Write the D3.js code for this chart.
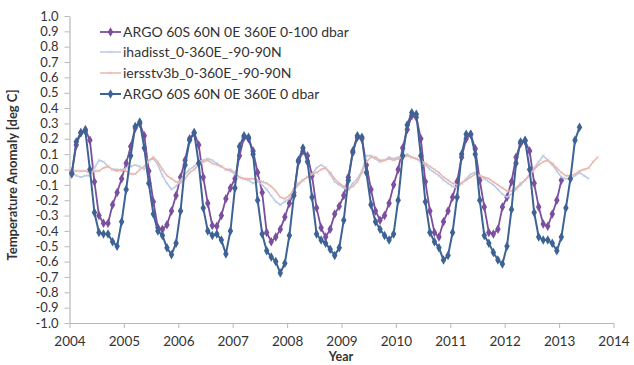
<!DOCTYPE html>
<html>
<head>
<meta charset="utf-8">
<script src="https://cdn.jsdelivr.net/npm/d3@7"></script>
<style>
  body { margin: 0; background: #fff; }
  text { font-family: Lato, "Open Sans", sans-serif; }
</style>
</head>
<body>
<div id="chart"></div>
<script>
// monthly values, first value = Jan 2004
var argo100 = [
  -0.02, 0.16, 0.24, 0.26, 0.19, -0.08, -0.30, -0.35, -0.35, -0.23, -0.15, -0.06,
  0.04, 0.15, 0.27, 0.30, 0.22, -0.01, -0.21, -0.38, -0.39, -0.36, -0.27, -0.17,
  -0.05, 0.06, 0.20, 0.24, 0.16, -0.05, -0.22, -0.365, -0.37, -0.30, -0.19, -0.12,
  -0.06, 0.09, 0.21, 0.20, 0.12, -0.02, -0.15, -0.41, -0.47, -0.44, -0.39, -0.31,
  -0.22, -0.15, 0.05, 0.12, 0.09, -0.04, -0.25, -0.38, -0.44, -0.39, -0.29, -0.24,
  -0.17, -0.05, 0.11, 0.21, 0.20, 0.03, -0.13, -0.27, -0.33, -0.30, -0.22, -0.10,
  0.00, 0.14, 0.26, 0.35, 0.34, 0.20, -0.08, -0.27, -0.41, -0.44, -0.34, -0.27,
  -0.18, -0.08, 0.08, 0.20, 0.23, 0.135, -0.07, -0.245, -0.41, -0.42, -0.39, -0.245,
  -0.18, -0.08, 0.08, 0.17, 0.185, 0.12, -0.09, -0.245, -0.355, -0.37, -0.29, -0.20,
  -0.07
];

var hadisst = [
  -0.02, -0.04, -0.05, -0.04, -0.04, 0.01, 0.06, 0.05, 0.02, 0.00, 0.00, -0.01,
  0.01, 0.02, 0.03, 0.02, 0.00, 0.06, 0.07, 0.03, -0.04, -0.09, -0.13, -0.11,
  -0.07, -0.03, 0.00, 0.02, 0.05, 0.06, 0.07, 0.06, 0.04, 0.02, 0.00, -0.01,
  -0.03, -0.05, -0.06, -0.07, -0.09, -0.08, -0.10, -0.13, -0.17, -0.21, -0.23, -0.21,
  -0.19, -0.14, -0.10, -0.07, -0.05, -0.03, 0.01, 0.03, 0.01, -0.03, -0.08, -0.10,
  -0.12, -0.13, -0.09, -0.06, -0.01, 0.09, 0.09, 0.07, 0.05, 0.06, 0.08, 0.07,
  0.08, 0.09, 0.10, 0.08, 0.07, 0.05, 0.03, 0.00, -0.02, -0.04, -0.07, -0.09,
  -0.11, -0.12, -0.09, -0.06, -0.03, -0.02, -0.04, -0.06, -0.08, -0.10, -0.13, -0.16,
  -0.18, -0.16, -0.13, -0.10, -0.07, -0.04, 0.01, 0.05, 0.09, 0.06, 0.03, -0.01,
  -0.05, -0.06, -0.06, -0.04, -0.02, -0.04, -0.06
];

var ersst = [
  0.00, -0.01, -0.01, -0.01, -0.02, -0.01, -0.01, 0.01, 0.02, 0.00, -0.01, 0.00,
  -0.01, -0.03, -0.03, 0.00, 0.02, 0.06, 0.08, 0.05, 0.00, -0.04, -0.06, -0.08,
  -0.09, -0.06, -0.02, 0.00, 0.03, 0.05, 0.06, 0.04, 0.03, 0.02, 0.00, 0.00,
  -0.02, -0.05, -0.06, -0.06, -0.06, -0.07, -0.08, -0.09, -0.11, -0.14, -0.18, -0.19,
  -0.17, -0.13, -0.09, -0.07, -0.05, -0.03, -0.02, 0.00, 0.01, -0.02, -0.06, -0.09,
  -0.11, -0.13, -0.11, -0.08, -0.02, 0.05, 0.08, 0.08, 0.06, 0.06, 0.07, 0.06,
  0.07, 0.08, 0.09, 0.08, 0.07, 0.06, 0.04, 0.02, 0.00, -0.02, -0.05, -0.07,
  -0.09, -0.10, -0.09, -0.07, -0.05, -0.03, -0.04, -0.05, -0.06, -0.08, -0.10, -0.12,
  -0.14, -0.14, -0.12, -0.09, -0.07, -0.03, 0.00, 0.03, 0.05, 0.06, 0.04, 0.01,
  -0.02, -0.04, -0.04, -0.03, -0.01, 0.00, 0.01, 0.05, 0.08
];

var argo0 = [
  -0.03, 0.18, 0.24, 0.25, 0.00, -0.28, -0.41, -0.42, -0.42, -0.47, -0.50, -0.34,
  -0.13, 0.09, 0.28, 0.31, 0.14, -0.09, -0.29, -0.40, -0.43, -0.51, -0.555, -0.48,
  -0.27, 0.03, 0.19, 0.24, 0.04, -0.25, -0.40, -0.43, -0.42, -0.46, -0.55, -0.40,
  -0.12, 0.15, 0.22, 0.21, 0.10, -0.20, -0.42, -0.53, -0.57, -0.60, -0.675, -0.61,
  -0.43, -0.17, 0.06, 0.14, 0.05, -0.18, -0.42, -0.46, -0.48, -0.52, -0.56, -0.51,
  -0.33, -0.07, 0.12, 0.22, 0.21, -0.02, -0.23, -0.34, -0.39, -0.43, -0.46, -0.42,
  -0.20, 0.09, 0.29, 0.37, 0.36, 0.09, -0.21, -0.41, -0.47, -0.51, -0.59, -0.56,
  -0.41, -0.18, 0.10, 0.23, 0.23, 0.10, -0.20, -0.43, -0.48, -0.54, -0.59, -0.615,
  -0.50, -0.26, 0.04, 0.18, 0.19, 0.00, -0.28, -0.44, -0.46, -0.46, -0.48, -0.53,
  -0.44, -0.25, -0.06, 0.19, 0.275
];

var seriesNames = [
  "ARGO 60S 60N 0E 360E 0-100 dbar",
  "ihadisst_0-360E_-90-90N",
  "iersstv3b_0-360E_-90-90N",
  "ARGO 60S 60N 0E 360E 0 dbar"
];

var yearTicks = [2004, 2005, 2006, 2007, 2008, 2009, 2010, 2011, 2012, 2013, 2014];
var tempTicks = [-1.0, -0.9, -0.8, -0.7, -0.6, -0.5, -0.4, -0.3, -0.2, -0.1, 0.0,
  0.1, 0.2, 0.3, 0.4, 0.5, 0.6, 0.7, 0.8, 0.9, 1.0];

// svg size and plot edges
var svgWidth = 634;
var svgHeight = 365;
var plot = { left: 69.5, right: 613.5, top: 16, bottom: 323 };

var svg = d3.select("#chart")
  .append("svg")
  .attr("width", svgWidth)
  .attr("height", svgHeight);

var xScale = d3.scaleLinear()
  .domain([2004, 2014])
  .range([plot.left, plot.right]);

var yScale = d3.scaleLinear()
  .domain([-1, 1])
  .range([plot.bottom, plot.top]);

// axes
var xAxis = svg.append("g")
  .attr("transform", `translate(0, ${plot.bottom})`)
  .call(d3.axisBottom(xScale).tickValues(yearTicks).tickFormat(d => d).tickSize(5).tickSizeOuter(0));

var yAxis = svg.append("g")
  .attr("transform", `translate(${plot.left}, 0)`)
  .call(d3.axisLeft(yScale).tickValues(tempTicks).tickFormat(d => d.toFixed(1)).tickSize(5).tickSizeOuter(0));

[xAxis, yAxis].forEach(function(ax) {
  ax.select(".domain").attr("stroke", "#b8b8b8").attr("stroke-width", 1.2);
  ax.selectAll(".tick line").attr("stroke", "#b8b8b8");
  ax.selectAll(".tick text")
    .attr("fill", "#333")
    .style("font-size", "13px")
    .style("font-family", "Lato, sans-serif");
});
xAxis.selectAll(".tick text").attr("font-size", null).style("font-size", "13.5px").attr("dy", "1.1em");
yAxis.selectAll(".tick text").attr("x", -11);

// axis titles
svg.append("text")
  .attr("x", (plot.left + plot.right) / 2 - 0.5)
  .attr("y", 361)
  .attr("text-anchor", "middle")
  .attr("font-weight", "bold")
  .attr("font-size", "12.5px")
  .attr("fill", "#333")
  .text("Year");

svg.append("text")
  .attr("transform", "translate(17, 175) rotate(-90)")
  .attr("text-anchor", "middle")
  .attr("font-weight", "bold")
  .attr("font-size", "13px")
  .attr("fill", "#333")
  .text("Temperature  Anomaly [deg C]");

// series table built from the arrays
var series = [
  { name: seriesNames[0], values: argo100, color: "#7b4f9e", width: 1.8, marker: "diamond" },
  { name: seriesNames[1], values: hadisst, color: "#b8cae4", width: 1.5, marker: "cross" },
  { name: seriesNames[2], values: ersst, color: "#e8b6ae", width: 1.5, marker: "cross" },
  { name: seriesNames[3], values: argo0, color: "#3d6395", width: 2, marker: "diamond" }
];

// month index -> decimal year (mid month)
function monthX(i) {
  return xScale(2004 + (i + 0.5) / 12);
}

var line = d3.line()
  .x((d, i) => monthX(i))
  .y(d => yScale(d));

var diamond = d3.symbol().type(d3.symbolDiamond).size(26);
var crossPath = "M-1.6,-1.6L1.6,1.6M-1.6,1.6L1.6,-1.6";

function drawMarker(sel, s) {
  if (s.marker === "diamond") {
    sel.append("path").attr("d", diamond).attr("fill", s.color);
  } else {
    sel.append("path").attr("d", crossPath)
      .attr("stroke", s.color).attr("stroke-width", 0.7)
      .attr("stroke-opacity", 0.8).attr("fill", "none");
  }
}

series.forEach(function(s) {
  var g = svg.append("g");
  g.append("path")
    .datum(s.values)
    .attr("d", line)
    .attr("fill", "none")
    .attr("stroke", s.color)
    .attr("stroke-width", s.width)
    .attr("stroke-linejoin", "round");

  g.selectAll("g.pt")
    .data(s.values)
    .enter()
    .append("g")
    .attr("class", "pt")
    .attr("transform", (d, i) => `translate(${monthX(i)}, ${yScale(d)})`)
    .each(function() { drawMarker(d3.select(this), s); });
});

// legend
var legend = svg.append("g");
var legendRows = [32, 52, 73, 94];
series.forEach(function(s, i) {
  var row = legend.append("g").attr("transform", `translate(100, ${legendRows[i]})`);
  row.append("line")
    .attr("x1", 0).attr("x2", 21)
    .attr("stroke", s.color)
    .attr("stroke-width", s.width);
  drawMarker(row.append("g").attr("transform", "translate(10.5, 0)"), s);
  row.append("text")
    .attr("x", 23)
    .attr("dy", "0.35em")
    .attr("font-size", "14px")
    .attr("fill", "#333")
    .text(s.name);
});
</script>
</body>
</html>
